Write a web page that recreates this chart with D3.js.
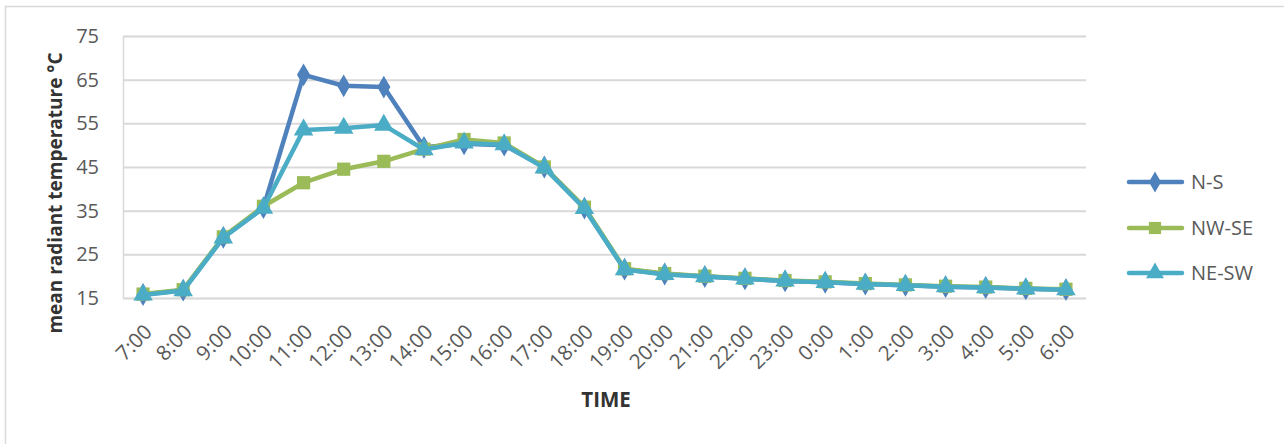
<!DOCTYPE html>
<html>
<head>
<meta charset="utf-8">
<script src="https://cdn.jsdelivr.net/npm/d3@7"></script>
<style>
  html, body { margin: 0; padding: 0; background: #fff; }
  svg { display: block; }
  text { font-family: "Open Sans", "DejaVu Sans", sans-serif; }
</style>
</head>
<body>
<svg id="chart" width="1284" height="444"></svg>
<script>
const times = ["7:00","8:00","9:00","10:00","11:00","12:00","13:00","14:00","15:00","16:00","17:00","18:00",
               "19:00","20:00","21:00","22:00","23:00","0:00","1:00","2:00","3:00","4:00","5:00","6:00"];
const nsValues   = [15.8, 16.8, 28.9, 35.7, 66.1, 63.6, 63.3, 49.5, 50.3, 50.0, 45.0, 35.6, 21.6, 20.5, 19.9, 19.4, 18.9, 18.6, 18.2, 17.9, 17.6, 17.4, 17.1, 16.9];
const nwseValues = [15.9, 16.9, 29.0, 36.0, 41.4, 44.5, 46.3, 49.1, 51.3, 50.5, 45.0, 35.8, 21.7, 20.6, 20.0, 19.5, 19.0, 18.7, 18.3, 18.0, 17.7, 17.5, 17.2, 17.0];
const neswValues = [15.7, 16.7, 28.8, 35.6, 53.5, 53.9, 54.6, 49.0, 50.5, 50.1, 44.8, 35.5, 21.5, 20.4, 19.9, 19.4, 18.9, 18.6, 18.2, 17.9, 17.6, 17.4, 17.1, 16.9];
const seriesNames = ["N-S", "NW-SE", "NE-SW"];
const yTicks = [15, 25, 35, 45, 55, 65, 75];
const yTitle = "mean radiant temperature °C";
const xTitle = "TIME";

const series = [
  { name: seriesNames[0], values: nsValues,   color: "#4F81BD", symbol: d3.symbolDiamond,  size: 150 },
  { name: seriesNames[1], values: nwseValues, color: "#9BBB59", symbol: d3.symbolSquare,   size: 175 },
  { name: seriesNames[2], values: neswValues, color: "#4BACC6", symbol: d3.symbolTriangle, size: 165 }
];

const svg = d3.select("#chart");
const pLeft = 123, pRight = 1086, pTop = 36, pBottom = 298;

// outer chart border
svg.append("rect").attr("x", 5.5).attr("y", 6.5).attr("width", 1290).attr("height", 460)
  .attr("fill", "#fff").attr("stroke", "#d9d9d9").attr("stroke-width", 1.5);

const x = d3.scalePoint().domain(times).range([pLeft, pRight]).padding(0.5);
const y = d3.scaleLinear().domain([15, 75]).range([pBottom, pTop]);

// gridlines
const gridAxis = d3.axisLeft(y).tickValues(yTicks).tickSize(-(pRight - pLeft)).tickFormat("");
const gg = svg.append("g").attr("transform", `translate(${pLeft},0)`).call(gridAxis);
gg.select(".domain").attr("stroke", "#d9d9d9").attr("stroke-width", 1.5);
gg.selectAll(".tick line").attr("stroke", "#d9d9d9").attr("stroke-width", 2);

// y tick labels
const yAxis = d3.axisLeft(y).tickValues(yTicks).tickSize(0).tickPadding(24);
const ya = svg.append("g").attr("transform", `translate(${pLeft},0)`).call(yAxis);
ya.select(".domain").remove();
ya.selectAll(".tick text").attr("font-size", 20).attr("fill", "#595959")
  .attr("font-family", "'Open Sans', sans-serif");

// x axis labels (rotated)
const xa = svg.append("g");
xa.selectAll("text").data(times).join("text")
  .attr("transform", d => `translate(${x(d) + 5},328) rotate(-45)`)
  .attr("text-anchor", "end")
  .attr("dy", "0.36em")
  .attr("font-size", 20.5)
  .attr("fill", "#595959")
  .text(d => d);

// axis titles
svg.append("text")
  .attr("transform", `translate(55,193) rotate(-90)`)
  .attr("text-anchor", "middle").attr("dy", "0.35em")
  .attr("font-size", 19).attr("font-weight", "bold").attr("fill", "#333")
  .text(yTitle);
svg.append("text")
  .attr("x", 606).attr("y", 400).attr("text-anchor", "middle").attr("dy", "0.35em")
  .attr("font-size", 20.5).attr("font-weight", "bold").attr("fill", "#333")
  .text(xTitle);

// lines and markers
const line = d3.line().x((d, i) => x(times[i])).y(d => y(d));
series.forEach(s => {
  const g = svg.append("g");
  g.append("path").datum(s.values).attr("d", line)
    .attr("fill", "none").attr("stroke", s.color).attr("stroke-width", 4.5)
    .attr("stroke-linejoin", "round").attr("stroke-linecap", "round");
  g.selectAll("path.m").data(s.values).join("path").attr("class", "m")
    .attr("transform", (d, i) => `translate(${x(times[i])},${y(d)})`)
    .attr("d", d3.symbol().type(s.symbol).size(s.size))
    .attr("fill", s.color);
});

// legend
const legendY = [182, 228, 273];
series.forEach((s, i) => {
  const g = svg.append("g").attr("transform", `translate(0,${legendY[i]})`);
  g.append("line").attr("x1", 1129).attr("x2", 1182).attr("y1", 0).attr("y2", 0)
    .attr("stroke", s.color).attr("stroke-width", 4.5).attr("stroke-linecap", "round");
  g.append("path").attr("transform", "translate(1155,0)")
    .attr("d", d3.symbol().type(s.symbol).size(s.size * 0.85)).attr("fill", s.color);
  g.append("text").attr("x", 1191).attr("y", 0).attr("dy", "0.36em")
    .attr("font-size", 20).attr("fill", "#595959").text(s.name);
});
</script>
</body>
</html>
